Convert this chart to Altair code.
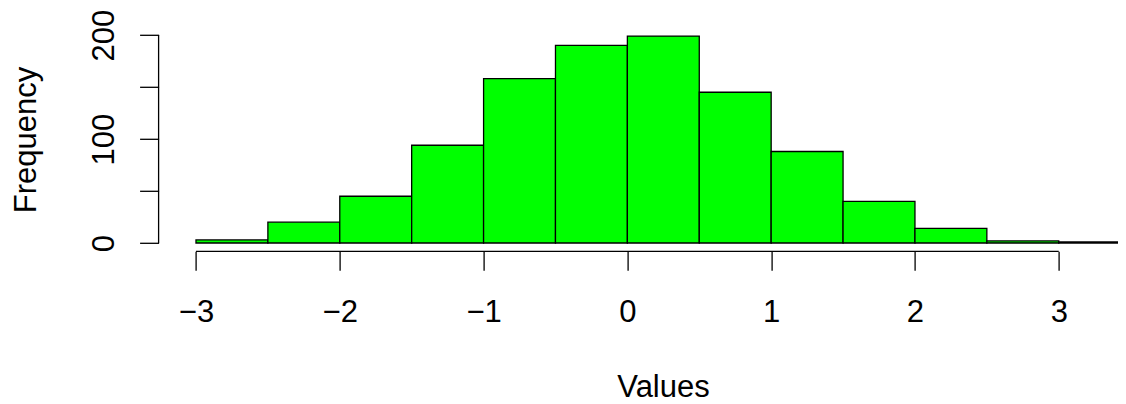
import altair as alt
import pandas as pd

# Histogram data (bin edges and frequencies)
bin_start = [-3.0, -2.5, -2.0, -1.5, -1.0, -0.5, 0.0, 0.5, 1.0, 1.5, 2.0, 2.5, 3.0]
bin_width = 0.5
counts = [3, 20, 45, 94, 158, 190, 199, 145, 88, 40, 14, 2, 1]

x_ticks = [-3, -2, -1, 0, 1, 2, 3]
y_ticks = [0, 50, 100, 150, 200]

df = pd.DataFrame({
    "start": bin_start,
    "end": [b + bin_width for b in bin_start],
    "count": counts,
})
xaxis_df = pd.DataFrame({"x": [x_ticks[0]], "x2": [x_ticks[-1]]})
yaxis_df = pd.DataFrame({"y": [y_ticks[0]], "y2": [y_ticks[-1]]})

FONT = "Liberation Sans"
FS = 31
W, H = 959.4, 223.5

xscale = alt.Scale(domain=[-3.26, 3.412], nice=False, zero=False)
yscale = alt.Scale(domain=[-7.96, 206.96], nice=False, zero=False)

bars = alt.Chart(df).mark_bar(
    color="#00FF00", stroke="black", strokeWidth=1.3, clip=True
).encode(
    x=alt.X("start:Q", scale=xscale, axis=alt.Axis(
        values=x_ticks, format="d", domain=False, grid=False, tickColor="black",
        tickWidth=1.3, tickSize=19, labelFont=FONT, labelFontSize=FS,
        labelColor="black", labelBaseline="alphabetic", labelPadding=50.7,
        labelFlush=False, labelOverlap=False,
        title="Values", titleFont=FONT, titleFontSize=FS, titleFontWeight="normal",
        titleColor="black", titleBaseline="alphabetic", titleAlign="center",
        titleX=504.4, titleY=145.5)),
    x2="end:Q",
    y=alt.Y("count:Q", scale=yscale, axis=alt.Axis(
        values=y_ticks, format="d", domain=False, grid=False, tickColor="black",
        tickWidth=1.3, tickSize=19, labelFont=FONT, labelFontSize=FS,
        labelColor="black", labelAngle=-90, labelAlign="center",
        labelBaseline="alphabetic", labelPadding=26.6, labelFlush=False,
        labelOverlap=False,
        labelExpr="datum.value % 100 == 0 ? datum.label : ''",
        title="Frequency", titleFont=FONT, titleFontSize=FS, titleFontWeight="normal",
        titleColor="black", titleAngle=-90, titleAlign="center",
        titleBaseline="alphabetic", titleX=-123.6, titleY=111.7)),
    y2=alt.Y2(datum=0),
)

xline = alt.Chart(xaxis_df).mark_rule(color="black", strokeWidth=1.3).encode(
    x=alt.X("x:Q", scale=xscale), x2="x2:Q", y=alt.value(H)
)
yline = alt.Chart(yaxis_df).mark_rule(color="black", strokeWidth=1.3).encode(
    y=alt.Y("y:Q", scale=yscale), y2="y2:Q", x=alt.value(0)
)

chart = alt.layer(bars, xline, yline).properties(
    width=W, height=H,
    autosize=alt.AutoSizeParams(type="none"),
    padding={"left": 150.6, "top": 19.8, "right": 0, "bottom": 151.7},
    background="white",
).configure_view(stroke=None)

chart.save("out.html", embed_options={"renderer": "svg", "actions": False})
